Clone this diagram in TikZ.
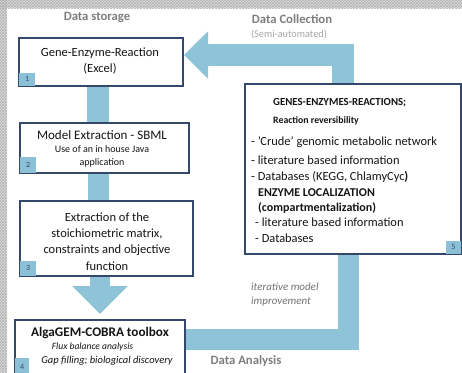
\documentclass[tikz,border=0pt]{standalone}
\usepackage{fontspec}
\setmainfont{Carlito}
\usetikzlibrary{arrows.meta,calc,backgrounds,patterns}
\definecolor{bandc}{RGB}{143,196,216}
\definecolor{framec}{RGB}{52,72,108}
\definecolor{numbg}{RGB}{140,192,214}
\definecolor{headgray}{RGB}{125,125,125}
\definecolor{lightgrayc}{RGB}{165,165,165}
\definecolor{itgray}{RGB}{115,115,115}
\definecolor{stripbg}{RGB}{224,224,224}
\definecolor{stripfg}{RGB}{175,175,175}
\definecolor{txtc}{RGB}{20,20,20}
\begin{document}
\begin{tikzpicture}[x=1pt,y=-1pt,
  box/.style={draw=framec,line width=2pt,fill=white,anchor=north west,inner sep=0pt},
  num/.style={fill=numbg,inner sep=0pt,minimum width=16pt,minimum height=13pt,
    font=\fontsize{8}{8}\selectfont,text=framec},
  bandline/.style={draw=bandc,line join=miter},
  headtxt/.style={font=\bfseries\fontsize{12.7}{13}\selectfont,text=headgray},
  bigtxt/.style={font=\fontsize{12.5}{16.3}\selectfont,text=txtc,align=center,inner sep=0pt},
  smalltxt/.style={font=\fontsize{10}{13}\selectfont,text=txtc,align=center,inner sep=0pt},
  listtxt/.style={font=\fontsize{12.4}{12}\selectfont,text=txtc,anchor=west,inner sep=0pt},
  captxt/.style={font=\bfseries\fontsize{10.8}{11}\selectfont,text=txtc,anchor=west,inner sep=0pt},
  cap2txt/.style={font=\bfseries\fontsize{12}{12}\selectfont,text=txtc,anchor=west,inner sep=0pt}
]
\useasboundingbox (0,0) rectangle (462,372);
% patterned frame strips
\fill[stripbg] (0,0) rectangle (462,8);
\fill[stripbg] (0,0) rectangle (7,372);
\fill[pattern=crosshatch,pattern color=stripfg] (0,0) rectangle (462,8);
\fill[pattern=crosshatch,pattern color=stripfg] (0,0) rectangle (7,372);

% boxes
\node[box,minimum width=164pt,minimum height=48pt] (b1) at (18,37) {};
\node[box,minimum width=169pt,minimum height=50pt] (b2) at (19,122) {};
\node[box,minimum width=173pt,minimum height=75pt] (b3) at (19,200) {};
\node[box,minimum width=170pt,minimum height=56pt] (b4) at (14,319) {};
\node[box,minimum width=216pt,minimum height=170pt] (b5) at (244,83) {};

% number squares
\node[num,anchor=south west] (n1) at ($(b1.south west)+(1,-1)$) {1};
\node[num,anchor=south west,minimum height=16pt] (n2) at ($(b2.south west)+(1,-1)$) {2};
\node[num,anchor=south west,minimum height=15pt] (n3) at ($(b3.south west)+(1,-1)$) {3};
\node[num,anchor=south west,minimum width=14pt,minimum height=18pt] (n4) at ($(b4.south west)+(1,-1)$) {4};
\node[num,anchor=south east,minimum width=15pt,minimum height=13pt] (n5) at ($(b5.south east)+(-1,-1)$) {5};

% bands (behind boxes)
\coordinate (colA) at (342.5,0);
\coordinate (tipA) at ($(b1.east)+(0,-7)$);
\coordinate (colB) at (98,0);
\coordinate (colC) at (100,0);
\coordinate (rowD) at (0,339);
\coordinate (colD) at (348,0);
\begin{scope}[on background layer]
\draw[bandline,line width=22pt,-{Triangle[length=24pt,width=46pt]}] (b5.north -| colA) |- (tipA);
\draw[bandline,line width=22pt] (b1.south -| colB) -- (b2.north -| colB);
\draw[bandline,line width=21pt] (b2.south -| colB) -- (b3.north -| colB);
\draw[bandline,line width=20pt,-{Triangle[length=28pt,width=54pt]},shorten >=5pt] (b3.south -| colC) -- (b4.north -| colC);
\draw[bandline,line width=21pt] (b4.east |- rowD) -| (b5.south -| colD);
\end{scope}

% headings
\node[headtxt] (h1) at (97,17) {Data storage};
\node[headtxt] (h2) at (292,19) {Data Collection};
\node[font=\fontsize{10.3}{10}\selectfont,text=lightgrayc] (h3) at (289,34) {(Semi-automated)};
\node[headtxt] (h4) at (246,361) {Data Analysis};
\node[font=\itshape\fontsize{11}{14}\selectfont,text=itgray,align=left,anchor=north west,inner sep=0pt] (it) at (251,283) {iterative model\\improvement};

% box texts
\node[bigtxt] (t1) at (100,61) {Gene-Enzyme-Reaction\\(Excel)};
\node[bigtxt,font=\fontsize{13}{14}\selectfont] (t2a) at (102,135) {Model Extraction - SBML};
\node[smalltxt] (t2b) at (102,156.5) {Use of an in house Java\\application};
\node[bigtxt] (t3) at (107,241.5) {Extraction of the\\stoichiometric matrix,\\constraints and objective\\function};
\node[bigtxt,font=\bfseries\fontsize{13.2}{14}\selectfont] (t4a) at (100,333) {AlgaGEM-COBRA toolbox};
\node[smalltxt,font=\itshape\fontsize{9.6}{12}\selectfont] (t4b) at (92.5,346.5) {Flux balance analysis};
\node[smalltxt,font=\itshape\fontsize{10.5}{12}\selectfont] (t4c) at (107,361) {Gap filling; biological discovery};

\node[captxt] (t5a) at (273,103) {GENES-ENZYMES-REACTIONS;};
\node[captxt,font=\bfseries\fontsize{9.8}{10}\selectfont] (t5b) at (273,121) {Reaction reversibility};
\node[listtxt] (t5c) at (251,142) {- 'Crude' genomic metabolic network};
\node[listtxt] (t5d) at (251,160) {- literature based information};
\node[listtxt] (t5e) at (251,177) {- Databases (KEGG, ChlamyCyc\textbf{)}};
\node[cap2txt] (t5f) at (258,193) {ENZYME LOCALIZATION};
\node[cap2txt] (t5g) at (258,208) {(compartmentalization)};
\node[listtxt] (t5h) at (255,222) {- literature based information};
\node[listtxt] (t5i) at (255,238) {- Databases};
\end{tikzpicture}
\end{document}
